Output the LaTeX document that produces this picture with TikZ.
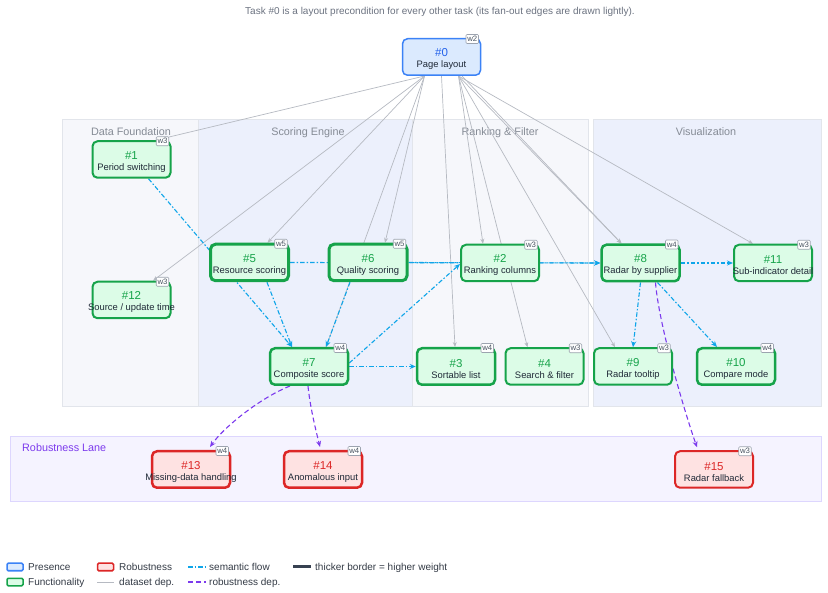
\documentclass[tikz,border=0pt]{standalone}
\usepackage{fontspec}
\setmainfont{Liberation Sans}
\usetikzlibrary{calc,arrows.meta}
\pgfdeclarelayer{lanes}
\pgfdeclarelayer{edges}
\pgfsetlayers{lanes,edges,main}
\definecolor{grnB}{HTML}{16A34A}
\definecolor{grnF}{HTML}{DCFCE7}
\definecolor{grnT}{HTML}{16A34A}
\definecolor{bluB}{HTML}{3B82F6}
\definecolor{bluF}{HTML}{DBEAFE}
\definecolor{bluT}{HTML}{2563EB}
\definecolor{redB}{HTML}{DC2626}
\definecolor{redF}{HTML}{FEE2E2}
\definecolor{redT}{HTML}{DC2626}
\definecolor{labtxt}{HTML}{1F2937}
\definecolor{badgeB}{HTML}{9CA3AF}
\definecolor{badgeT}{HTML}{4B5563}
\definecolor{laneA}{HTML}{F6F7FB}
\definecolor{laneBfill}{HTML}{ECF0FC}
\definecolor{laneLine}{HTML}{E2E5EB}
\definecolor{robLaneF}{HTML}{F5F3FF}
\definecolor{robLaneB}{HTML}{DDD6FE}
\definecolor{laneTitle}{HTML}{858B95}
\definecolor{robTitle}{HTML}{7C3AED}
\definecolor{depC}{HTML}{B6BAC2}
\definecolor{semC}{HTML}{0EA5E9}
\definecolor{robC}{HTML}{7C3AED}
\definecolor{legC}{HTML}{333A45}
\definecolor{ttlC}{HTML}{6B7280}
\definecolor{thickC}{HTML}{374151}
\tikzset{
  task/.style={draw, rounded corners=5pt, minimum width=78pt, minimum height=36.5pt,
    inner sep=0pt, align=center, font=\fontsize{9.4}{11}\selectfont, text=labtxt},
  func/.style={task, draw=grnB, fill=grnF},
  pres/.style={task, draw=bluB, fill=bluF},
  robn/.style={task, draw=redB, fill=redF},
  wt2/.style={line width=1.5pt},
  wt3/.style={line width=2pt},
  wt4/.style={line width=2.5pt},
  wt5/.style={line width=3pt},
  badge/.style={draw=badgeB, fill=white, line width=0.6pt, rounded corners=1pt,
    inner sep=0.6pt, minimum width=12.5pt, minimum height=9pt,
    font=\fontsize{7.8}{7.8}\selectfont, text=badgeT},
  lane/.style={draw=laneLine, line width=0.7pt, anchor=north west, inner sep=0pt},
  lanetitle/.style={anchor=base, inner sep=0pt, font=\fontsize{10.8}{12}\selectfont, text=laneTitle},
  dep/.style={draw=depC, line width=0.7pt, -{Stealth[length=5pt,width=4pt]}},
  sem/.style={draw=semC, line width=1.1pt, dash pattern=on 4.5pt off 2pt on 1.5pt off 2pt,
    -{Stealth[length=6pt,width=5pt]}},
  rob/.style={draw=robC, line width=1.1pt, dash pattern=on 5pt off 3pt,
    -{Stealth[length=6pt,width=5pt]}},
  legbox/.style={minimum width=16pt, minimum height=7.5pt, inner sep=0pt,
    rounded corners=1.2pt, line width=1.5pt},
  legtxt/.style={anchor=base west, inner sep=0pt, font=\fontsize{10}{12}\selectfont, text=legC},
}
\newcommand{\tlab}[3]{\makebox[0pt]{\rule{0pt}{12.5pt}\fontsize{11.5}{11.5}\selectfont\color{#1}\##2}\\\makebox[0pt]{#3}}
\newcommand{\mktask}[7]{%
  \node[#2, wt#3] (#1) at (#4) {\tlab{#7}{#5}{#6}};
  \node[badge] (#1w) at ($(#1.north east)+(-9,1)$) {w#3};
}
\begin{document}
\begin{tikzpicture}[x=1pt,y=-1pt]
\useasboundingbox (0,0) rectangle (828,593);

% title
\node[anchor=base, inner sep=0pt, font=\fontsize{10}{12}\selectfont, text=ttlC] (title) at (440,14.6)
  {Task \#0 is a layout precondition for every other task (its fan-out edges are drawn lightly).};

% lanes
\begin{pgfonlayer}{lanes}
\node[lane, fill=laneA, minimum width=136pt, minimum height=287pt] (laneDF) at (62,119) {};
\node[lane, fill=laneBfill, minimum width=214pt, minimum height=287pt] (laneSE) at (198,119) {};
\node[lane, fill=laneA, minimum width=176pt, minimum height=287pt] (laneRF) at (412,119) {};
\node[lane, fill=laneBfill, minimum width=228pt, minimum height=287pt] (laneVZ) at (593,119) {};
\node[lane, draw=robLaneB, fill=robLaneF, minimum width=811pt, minimum height=65pt] (laneRB) at (10,436) {};
\node[lanetitle] (tDF) at (131,135.5) {Data Foundation};
\node[lanetitle] (tSE) at (308,135.5) {Scoring Engine};
\node[lanetitle] (tRF) at (500,135.5) {Ranking \& Filter};
\node[lanetitle] (tVZ) at (706,135.5) {Visualization};
\node[lanetitle, anchor=base west, text=robTitle] (tRB) at (22,451.5) {Robustness Lane};
\end{pgfonlayer}

% tasks
\mktask{n0}{pres}{2}{441.5,57}{0}{Page layout}{bluT}
\mktask{n1}{func}{3}{131.5,159.5}{1}{Period switching}{grnT}
\mktask{n12}{func}{3}{131.5,300}{12}{Source / update time}{grnT}
\mktask{n5}{func}{5}{249.5,262.5}{5}{Resource scoring}{grnT}
\mktask{n6}{func}{5}{368,262.5}{6}{Quality scoring}{grnT}
\mktask{n2}{func}{3}{500,263}{2}{Ranking columns}{grnT}
\mktask{n8}{func}{4}{640.5,263}{8}{Radar by supplier}{grnT}
\mktask{n11}{func}{3}{773,263}{11}{Sub-indicator detail}{grnT}
\mktask{n7}{func}{4}{309,366.5}{7}{Composite score}{grnT}
\mktask{n3}{func}{4}{456,366.5}{3}{Sortable list}{grnT}
\mktask{n4}{func}{3}{544.5,366.5}{4}{Search \& filter}{grnT}
\mktask{n9}{func}{3}{633,366.5}{9}{Radar tooltip}{grnT}
\mktask{n10}{func}{4}{736,366.5}{10}{Compare mode}{grnT}
\mktask{n13}{robn}{4}{191,469.5}{13}{Missing-data handling}{redT}
\mktask{n14}{robn}{4}{323,469.5}{14}{Anomalous input}{redT}
\mktask{n15}{robn}{3}{714,469.5}{15}{Radar fallback}{redT}

% edges
\begin{pgfonlayer}{edges}
% dataset dependencies (fan-out from #0)
\draw[dep] ($(n0.south)+(-17,0)$) -- ($(n1.north)+(24,0)$);
\draw[dep] ($(n0.south)+(-17,0)$) -- ($(n12.north)+(21.5,0)$);
\draw[dep] ($(n0.south)+(-17,0)$) -- ($(n5.north)+(18,0)$);
\draw[dep] ($(n0.south)+(-17,0)$) -- ($(n6.north)+(17,0)$);
\draw[dep] ($(n0.south)+(-17,0)$) -- ($(n7.north)+(17,0)$);
\draw[dep] (n0.south) -- ($(n3.north)+(-1,0)$);
\draw[dep] ($(n0.south)+(17,0)$) -- ($(n2.north)+(-17,0)$);
\draw[dep] ($(n0.south)+(17,0)$) -- ($(n4.north)+(-17,0)$);
\draw[dep] ($(n0.south)+(17,0)$) -- ($(n8.north)+(-19,0)$);
\draw[dep] ($(n0.south)+(20.5,0)$) -- ($(n8.north)+(-19,0)$);
\draw[dep] ($(n0.south)+(17,0)$) -- ($(n9.north)+(-18,0)$);
\draw[dep] ($(n0.south)+(17,0)$) -- ($(n11.north)+(-20,0)$);
% semantic flow
\draw[sem] ($(n1.south)+(17,0)$) -- ($(n7.north)+(-17,0)$);
\draw[sem] ($(n5.south)+(17.5,0)$) -- ($(n7.north)+(-17,0)$);
\draw[sem] ($(n6.south)+(-18,0)$) -- ($(n7.north)+(17,0)$);
\draw[sem] (n5.east) -- (n8.west);
\draw[sem] (n6.east) -- (n8.west);
\draw[sem] ($(n7.east)+(0,-3.5)$) -- ($(n2.west)+(0,1)$);
\draw[sem] (n7.east) -- (n3.west);
\draw[sem] (n8.south) -- (n9.north);
\draw[sem] ($(n8.south)+(17,0)$) -- ($(n10.north)+(-19,0)$);
\draw[sem] (n8.east) -- (n11.west);
% robustness dependencies
\draw[rob] ($(n7.south)+(-19,0)$) .. controls ($(n7.south)+(-49,12)$) and ($(n13.north)+(33,-23)$) .. ($(n13.north)+(19,-3)$);
\draw[rob] ($(n7.south)+(-1,0)$) .. controls ($(n7.south)+(1,20)$) and ($(n14.north)+(-8,-23)$) .. ($(n14.north)+(-3,-3)$);
\draw[rob] ($(n8.south)+(15,0)$) .. controls ($(n8.south)+(18,40)$) and ($(n15.north)+(-31,-43)$) .. ($(n15.north)+(-17,-3)$);
\end{pgfonlayer}

% legend
\node[legbox, draw=bluB, fill=bluF] (lgP) at (15,567) {};
\node[legtxt] (ltP) at (28,570.6) {Presence};
\node[legbox, draw=grnB, fill=grnF] (lgF) at (15,582) {};
\node[legtxt] (ltF) at (28,585.6) {Functionality};
\node[legbox, draw=redB, fill=redF] (lgR) at (105.5,567) {};
\node[legtxt] (ltR) at (119,570.6) {Robustness};
\coordinate (ldA) at (97,582);
\coordinate (ldB) at (114,582);
\draw[draw=depC, line width=1pt] (ldA) -- (ldB);
\node[legtxt] (ltD) at (119,585.6) {dataset dep.};
\coordinate (lsA) at (188,567);
\coordinate (lsB) at (206,567);
\draw[draw=semC, line width=1.2pt, dash pattern=on 4.5pt off 2pt on 1.5pt off 2pt] (lsA) -- (lsB);
\node[legtxt] (ltS) at (209,570.6) {semantic flow};
\coordinate (lrA) at (188,582);
\coordinate (lrB) at (206,582);
\draw[draw=robC, line width=1.2pt, dash pattern=on 5pt off 3pt] (lrA) -- (lrB);
\node[legtxt] (ltRb) at (209,585.6) {robustness dep.};
\coordinate (ltA) at (293,567);
\coordinate (ltB) at (311,567);
\draw[draw=thickC, line width=3pt] (ltA) -- (ltB);
\node[legtxt] (ltT) at (315,570.6) {thicker border = higher weight};
\end{tikzpicture}
\end{document}
